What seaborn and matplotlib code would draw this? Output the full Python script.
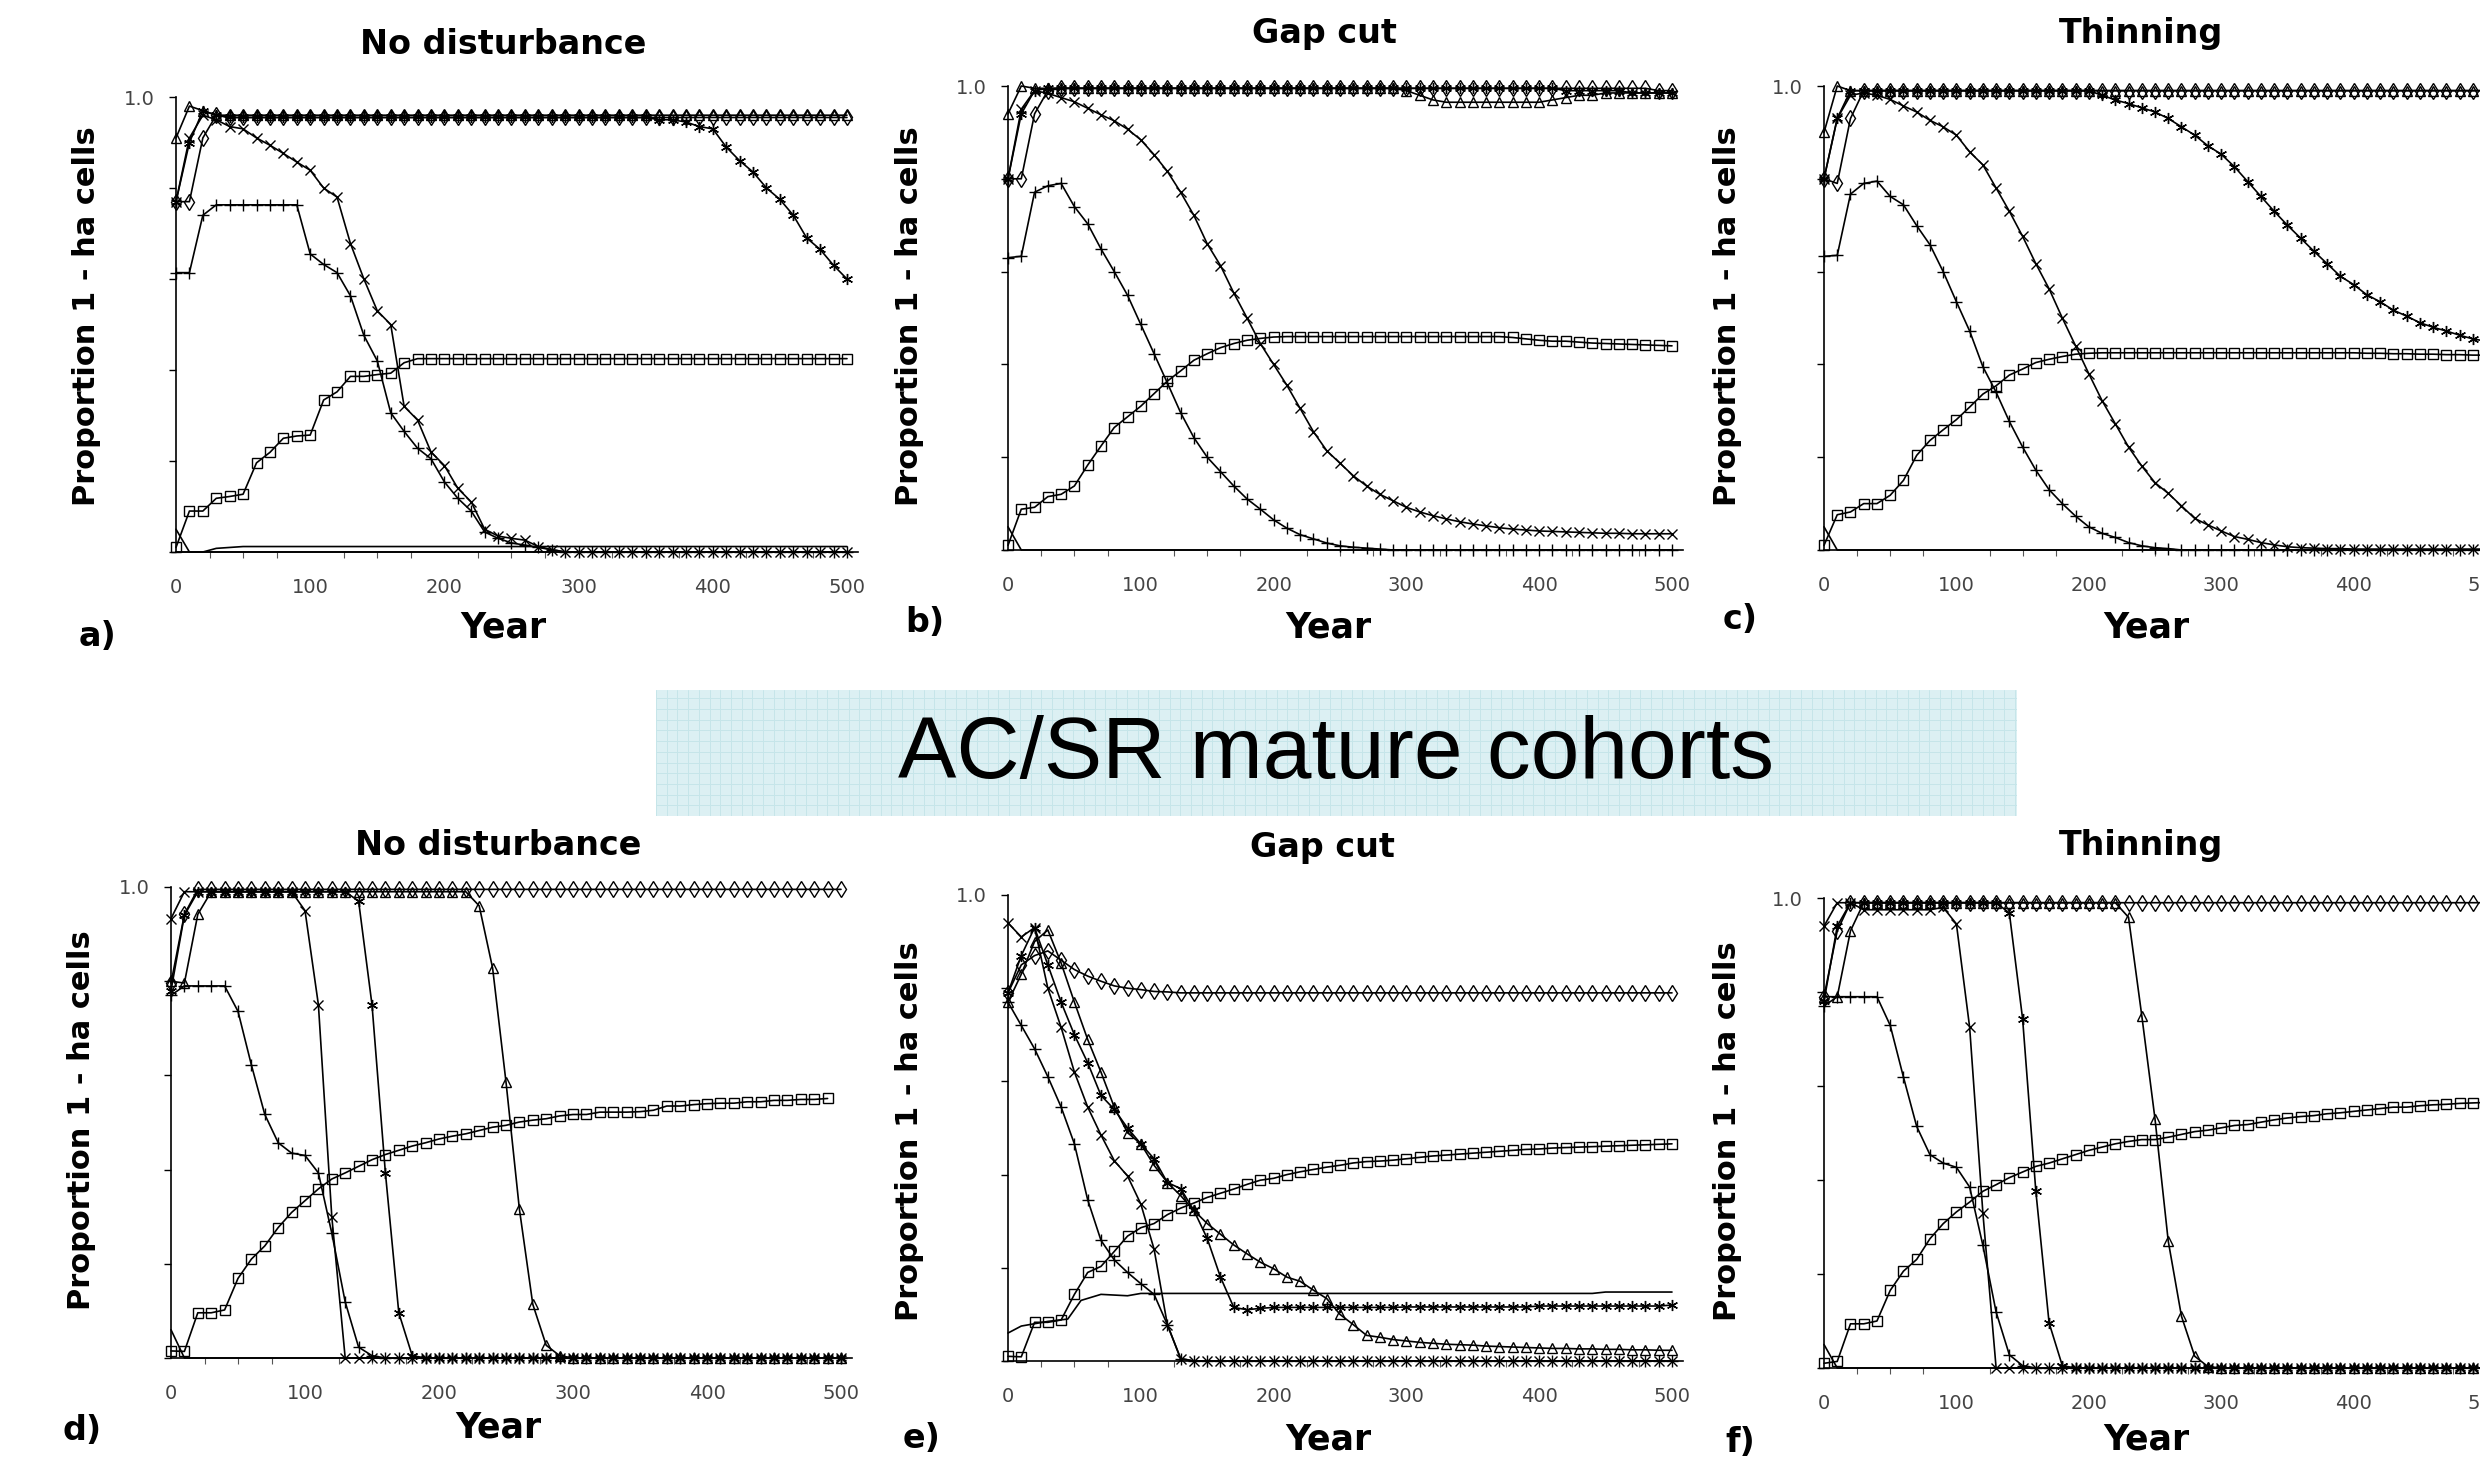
import numpy as np
import seaborn as sns
import matplotlib.pyplot as plt

# =====================================================
# DATA  (proportion of 1-ha cells, read every 10 years)
# =====================================================

YEARS = list(range(0, 510, 10))
SHORT_YEARS = [0, 10, 500]

TITLES = ["No disturbance", "Gap cut", "Thinning",
          "No disturbance", "Gap cut", "Thinning"]
LETTERS = ["a)", "b)", "c)", "d)", "e)", "f)"]
BANNER = "AC/SR mature cohorts"
X_TICKS = [0, 100, 200, 300, 400, 500]

# ---- a) no disturbance ----
A_TRI = [0.91, 0.98, 0.97, 0.96, 0.96, 0.96, 0.96, 0.96, 0.96, 0.96,
         0.96, 0.96, 0.96, 0.96, 0.96, 0.96, 0.96, 0.96, 0.96, 0.96,
         0.96, 0.96, 0.96, 0.96, 0.96, 0.96, 0.96, 0.96, 0.96, 0.96,
         0.96, 0.96, 0.96, 0.96, 0.96, 0.96, 0.96, 0.96, 0.96, 0.96,
         0.96, 0.96, 0.96, 0.96, 0.96, 0.96, 0.96, 0.96, 0.96, 0.96,
         0.96]
A_DIA = [0.77, 0.77, 0.91, 0.96, 0.955, 0.955, 0.955, 0.955, 0.955, 0.955,
         0.955, 0.955, 0.955, 0.955, 0.955, 0.955, 0.955, 0.955, 0.955, 0.955,
         0.955, 0.955, 0.955, 0.955, 0.955, 0.955, 0.955, 0.955, 0.955, 0.955,
         0.955, 0.955, 0.955, 0.955, 0.955, 0.955, 0.955, 0.955, 0.955, 0.955,
         0.955, 0.955, 0.955, 0.955, 0.955, 0.955, 0.955, 0.955, 0.955, 0.955,
         0.955]
A_AST = [0.77, 0.90, 0.97, 0.96, 0.955, 0.955, 0.955, 0.955, 0.955, 0.955,
         0.955, 0.955, 0.955, 0.955, 0.955, 0.955, 0.955, 0.955, 0.955, 0.955,
         0.955, 0.955, 0.955, 0.955, 0.955, 0.955, 0.955, 0.955, 0.955, 0.955,
         0.955, 0.955, 0.955, 0.955, 0.955, 0.955, 0.95, 0.95, 0.945, 0.935,
         0.93, 0.89, 0.86, 0.835, 0.80, 0.775, 0.74, 0.69, 0.665, 0.63,
         0.60]
A_X = [0.77, 0.91, 0.96, 0.95, 0.935, 0.93, 0.91, 0.894, 0.876, 0.857,
       0.839, 0.80, 0.78, 0.678, 0.60, 0.53, 0.50, 0.32, 0.29, 0.22,
       0.19, 0.14, 0.11, 0.05, 0.035, 0.03, 0.026, 0.012, 0.005, 0.0,
       0.0, 0.0, 0.0, 0.0, 0.0, 0.0, 0.0, 0.0, 0.0, 0.0,
       0.0, 0.0, 0.0, 0.0, 0.0, 0.0, 0.0, 0.0, 0.0, 0.0,
       0.0]
A_PLUS = [0.614, 0.614, 0.74, 0.763, 0.763, 0.763, 0.763, 0.763, 0.763, 0.763,
          0.655, 0.632, 0.614, 0.563, 0.476, 0.42, 0.306, 0.265, 0.228, 0.205,
          0.154, 0.118, 0.09, 0.044, 0.03, 0.02, 0.015, 0.01, 0.005, 0.0,
          0.0, 0.0, 0.0, 0.0, 0.0, 0.0, 0.0, 0.0, 0.0, 0.0,
          0.0, 0.0, 0.0, 0.0, 0.0, 0.0, 0.0, 0.0, 0.0, 0.0,
          0.0]
A_SQ = [0.01, 0.09, 0.09, 0.118, 0.122, 0.127, 0.196, 0.219, 0.25, 0.255,
        0.257, 0.334, 0.352, 0.386, 0.386, 0.39, 0.393, 0.416, 0.425, 0.425,
        0.425, 0.425, 0.425, 0.425, 0.425, 0.425, 0.425, 0.425, 0.425, 0.425,
        0.425, 0.425, 0.425, 0.425, 0.425, 0.425, 0.425, 0.425, 0.425, 0.425,
        0.425, 0.425, 0.425, 0.425, 0.425, 0.425, 0.425, 0.425, 0.425, 0.425,
        0.425]
A_LINE1 = [0.05, 0.0, 0.0]
A_LINE2_YEARS = [0, 20, 30, 50, 500]
A_LINE2 = [0.0, 0.0, 0.008, 0.012, 0.012]

# ---- b) gap cut ----
B_TRI = [0.94, 1.0, 0.995, 0.995, 0.995, 0.995, 0.995, 0.995, 0.995, 0.995,
         0.995, 0.995, 0.995, 0.995, 0.995, 0.995, 0.995, 0.995, 0.995, 0.995,
         0.995, 0.995, 0.995, 0.995, 0.995, 0.995, 0.995, 0.995, 0.995, 0.995,
         0.99, 0.98, 0.97, 0.965, 0.965, 0.965, 0.965, 0.965, 0.965, 0.965,
         0.965, 0.97, 0.975, 0.98, 0.98, 0.985, 0.985, 0.985, 0.985, 0.985,
         0.985]
B_DIA = [0.80, 0.80, 0.94, 0.99, 0.995, 0.995, 0.995, 0.995, 0.995, 0.995,
         0.995, 0.995, 0.995, 0.995, 0.995, 0.995, 0.995, 0.995, 0.995, 0.995,
         0.995, 0.995, 0.995, 0.995, 0.995, 0.995, 0.995, 0.995, 0.995, 0.995,
         0.995, 0.995, 0.995, 0.995, 0.995, 0.995, 0.995, 0.995, 0.995, 0.995,
         0.995, 0.995, 0.995, 0.995, 0.995, 0.995, 0.995, 0.995, 0.995, 0.99,
         0.99]
B_AST = [0.80, 0.94, 0.99, 0.995, 0.995, 0.995, 0.995, 0.995, 0.995, 0.995,
         0.995, 0.995, 0.995, 0.995, 0.995, 0.995, 0.995, 0.995, 0.995, 0.995,
         0.995, 0.995, 0.995, 0.995, 0.995, 0.995, 0.995, 0.995, 0.995, 0.995,
         0.995, 0.995, 0.995, 0.995, 0.995, 0.995, 0.995, 0.995, 0.995, 0.995,
         0.995, 0.995, 0.99, 0.99, 0.99, 0.99, 0.99, 0.985, 0.985, 0.985,
         0.985]
B_X = [0.80, 0.95, 0.99, 0.984, 0.975, 0.966, 0.952, 0.938, 0.925, 0.907,
       0.884, 0.852, 0.816, 0.771, 0.721, 0.66, 0.613, 0.554, 0.50, 0.445,
       0.40, 0.355, 0.305, 0.255, 0.214, 0.187, 0.16, 0.138, 0.12, 0.106,
       0.092, 0.082, 0.074, 0.067, 0.061, 0.056, 0.052, 0.048, 0.045, 0.043,
       0.041, 0.04, 0.039, 0.038, 0.037, 0.036, 0.036, 0.035, 0.035, 0.035,
       0.035]
B_PLUS = [0.63, 0.633, 0.771, 0.785, 0.79, 0.74, 0.703, 0.649, 0.60, 0.549,
          0.486, 0.423, 0.36, 0.296, 0.242, 0.20, 0.169, 0.138, 0.11, 0.088,
          0.065, 0.047, 0.033, 0.024, 0.015, 0.009, 0.006, 0.004, 0.002, 0.0,
          0.0, 0.0, 0.0, 0.0, 0.0, 0.0, 0.0, 0.0, 0.0, 0.0,
          0.0, 0.0, 0.0, 0.0, 0.0, 0.0, 0.0, 0.0, 0.0, 0.0,
          0.0]
B_SQ = [0.01, 0.088, 0.092, 0.115, 0.12, 0.138, 0.183, 0.224, 0.264, 0.287,
        0.31, 0.337, 0.364, 0.386, 0.409, 0.423, 0.436, 0.445, 0.452, 0.456,
        0.459, 0.46, 0.46, 0.46, 0.46, 0.46, 0.46, 0.46, 0.46, 0.46,
        0.46, 0.46, 0.46, 0.46, 0.46, 0.46, 0.46, 0.46, 0.458, 0.455,
        0.452, 0.45, 0.45, 0.448, 0.446, 0.445, 0.444, 0.443, 0.442, 0.441,
        0.44]
B_LINE1 = [0.05, 0.0, 0.0]

# ---- c) thinning ----
C_TRI = [0.90, 1.0, 0.99, 0.99, 0.99, 0.99, 0.99, 0.99, 0.99, 0.99,
         0.99, 0.99, 0.99, 0.99, 0.99, 0.99, 0.99, 0.99, 0.99, 0.99,
         0.99, 0.99, 0.99, 0.99, 0.99, 0.99, 0.99, 0.99, 0.99, 0.99,
         0.99, 0.99, 0.99, 0.99, 0.99, 0.99, 0.99, 0.99, 0.99, 0.99,
         0.99, 0.99, 0.99, 0.99, 0.99, 0.99, 0.99, 0.99, 0.99, 0.99,
         0.99]
C_DIA = [0.80, 0.79, 0.93, 0.99, 0.99, 0.99, 0.99, 0.99, 0.99, 0.99,
         0.99, 0.99, 0.99, 0.99, 0.99, 0.99, 0.99, 0.99, 0.99, 0.99,
         0.99, 0.99, 0.99, 0.99, 0.99, 0.99, 0.99, 0.99, 0.99, 0.99,
         0.99, 0.99, 0.99, 0.99, 0.99, 0.99, 0.99, 0.99, 0.99, 0.99,
         0.99, 0.99, 0.99, 0.99, 0.99, 0.99, 0.99, 0.99, 0.99, 0.99,
         0.99]
C_AST = [0.80, 0.93, 0.99, 0.99, 0.99, 0.99, 0.99, 0.99, 0.99, 0.99,
         0.99, 0.99, 0.99, 0.99, 0.99, 0.99, 0.99, 0.99, 0.99, 0.99,
         0.99, 0.98, 0.97, 0.962, 0.953, 0.944, 0.93, 0.912, 0.894, 0.871,
         0.853, 0.826, 0.794, 0.762, 0.73, 0.70, 0.672, 0.644, 0.617, 0.59,
         0.572, 0.55, 0.535, 0.517, 0.504, 0.49, 0.48, 0.472, 0.463, 0.455,
         0.45]
C_X = [0.80, 0.93, 0.98, 0.985, 0.98, 0.971, 0.957, 0.944, 0.926, 0.912,
       0.894, 0.858, 0.83, 0.78, 0.73, 0.676, 0.617, 0.563, 0.50, 0.44,
       0.38, 0.322, 0.272, 0.222, 0.181, 0.145, 0.122, 0.095, 0.068, 0.054,
       0.041, 0.029, 0.023, 0.016, 0.011, 0.007, 0.005, 0.004, 0.003, 0.003,
       0.002, 0.002, 0.002, 0.002, 0.002, 0.002, 0.002, 0.002, 0.002, 0.002,
       0.002]
C_PLUS = [0.633, 0.635, 0.767, 0.79, 0.795, 0.762, 0.744, 0.699, 0.658, 0.60,
          0.535, 0.472, 0.395, 0.34, 0.277, 0.222, 0.172, 0.13, 0.10, 0.073,
          0.05, 0.036, 0.027, 0.016, 0.009, 0.005, 0.003, 0.0, 0.0, 0.0,
          0.0, 0.0, 0.0, 0.0, 0.0, 0.0, 0.0, 0.0, 0.0, 0.0,
          0.0, 0.0, 0.0, 0.0, 0.0, 0.0, 0.0, 0.0, 0.0, 0.0,
          0.0]
C_SQ = [0.01, 0.076, 0.082, 0.10, 0.10, 0.118, 0.15, 0.204, 0.236, 0.259,
        0.281, 0.308, 0.336, 0.354, 0.377, 0.39, 0.404, 0.411, 0.417, 0.422,
        0.424, 0.425, 0.425, 0.425, 0.425, 0.425, 0.425, 0.425, 0.425, 0.425,
        0.425, 0.425, 0.425, 0.425, 0.425, 0.425, 0.425, 0.425, 0.425, 0.425,
        0.425, 0.424, 0.424, 0.423, 0.423, 0.422, 0.422, 0.421, 0.421, 0.42,
        0.42]
C_LINE1 = [0.05, 0.0, 0.0]

# ---- d) no disturbance, mature cohorts ----
D_DIA = [0.796, 0.942, 0.995, 0.995, 0.995, 0.995, 0.995, 0.995, 0.995, 0.995,
         0.995, 0.995, 0.995, 0.995, 0.995, 0.995, 0.995, 0.995, 0.995, 0.995,
         0.995, 0.995, 0.995, 0.995, 0.995, 0.995, 0.995, 0.995, 0.995, 0.995,
         0.995, 0.995, 0.995, 0.995, 0.995, 0.995, 0.995, 0.995, 0.995, 0.995,
         0.995, 0.995, 0.995, 0.995, 0.995, 0.995, 0.995, 0.995, 0.995, 0.995,
         0.995]
D_X = [0.933, 0.99, 0.99, 0.99, 0.99, 0.99, 0.99, 0.99, 0.99, 0.99,
       0.95, 0.75, 0.30, 0.0, 0.0, 0.0, 0.0, 0.0, 0.0, 0.0,
       0.0, 0.0, 0.0, 0.0, 0.0, 0.0, 0.0, 0.0, 0.0, 0.0,
       0.0, 0.0, 0.0, 0.0, 0.0, 0.0, 0.0, 0.0, 0.0, 0.0,
       0.0, 0.0, 0.0, 0.0, 0.0, 0.0, 0.0, 0.0, 0.0, 0.0,
       0.0]
D_AST = [0.78, 0.94, 0.99, 0.99, 0.99, 0.99, 0.99, 0.99, 0.99, 0.99,
         0.99, 0.99, 0.99, 0.99, 0.97, 0.75, 0.393, 0.096, 0.005, 0.0,
         0.0, 0.0, 0.0, 0.0, 0.0, 0.0, 0.0, 0.0, 0.0, 0.0,
         0.0, 0.0, 0.0, 0.0, 0.0, 0.0, 0.0, 0.0, 0.0, 0.0,
         0.0, 0.0, 0.0, 0.0, 0.0, 0.0, 0.0, 0.0, 0.0, 0.0,
         0.0]
D_TRI = [0.80, 0.796, 0.942, 0.99, 0.99, 0.99, 0.99, 0.99, 0.99, 0.99,
         0.99, 0.99, 0.99, 0.99, 0.99, 0.99, 0.99, 0.99, 0.99, 0.99,
         0.99, 0.99, 0.99, 0.96, 0.828, 0.586, 0.316, 0.114, 0.027, 0.005,
         0.0, 0.0, 0.0, 0.0, 0.0, 0.0, 0.0, 0.0, 0.0, 0.0,
         0.0, 0.0, 0.0, 0.0, 0.0, 0.0, 0.0, 0.0, 0.0, 0.0,
         0.0]
D_PLUS = [0.77, 0.79, 0.79, 0.79, 0.79, 0.736, 0.622, 0.517, 0.457, 0.435,
          0.43, 0.393, 0.265, 0.119, 0.023, 0.005, 0.0, 0.0, 0.0, 0.0,
          0.0, 0.0, 0.0, 0.0, 0.0, 0.0, 0.0, 0.0, 0.0, 0.0,
          0.0, 0.0, 0.0, 0.0, 0.0, 0.0, 0.0, 0.0, 0.0, 0.0,
          0.0, 0.0, 0.0, 0.0, 0.0, 0.0, 0.0, 0.0, 0.0, 0.0,
          0.0]
D_SQ = [0.015, 0.014, 0.096, 0.096, 0.102, 0.169, 0.21, 0.238, 0.277, 0.309,
        0.334, 0.359, 0.38, 0.393, 0.407, 0.421, 0.432, 0.441, 0.45, 0.457,
        0.465, 0.471, 0.476, 0.483, 0.49, 0.494, 0.501, 0.505, 0.508, 0.514,
        0.517, 0.517, 0.522, 0.522, 0.522, 0.523, 0.526, 0.535, 0.535, 0.538,
        0.54, 0.541, 0.541, 0.544, 0.544, 0.547, 0.547, 0.549, 0.549, 0.551]
D_LINE1 = [0.06, 0.0, 0.0]

# ---- e) gap cut, mature cohorts ----
E_DIA = [0.79, 0.85, 0.87, 0.88, 0.86, 0.84, 0.826, 0.815, 0.805, 0.80,
         0.797, 0.793, 0.792, 0.79, 0.79, 0.79, 0.79, 0.79, 0.79, 0.79,
         0.79, 0.79, 0.79, 0.79, 0.79, 0.79, 0.79, 0.79, 0.79, 0.79,
         0.79, 0.79, 0.79, 0.79, 0.79, 0.79, 0.79, 0.79, 0.79, 0.79,
         0.79, 0.79, 0.79, 0.79, 0.79, 0.79, 0.79, 0.79, 0.79, 0.79,
         0.79]
E_X = [0.94, 0.91, 0.93, 0.80, 0.716, 0.62, 0.545, 0.485, 0.43, 0.397,
       0.337, 0.24, 0.078, 0.005, 0.0, 0.0, 0.0, 0.0, 0.0, 0.0,
       0.0, 0.0, 0.0, 0.0, 0.0, 0.0, 0.0, 0.0, 0.0, 0.0,
       0.0, 0.0, 0.0, 0.0, 0.0, 0.0, 0.0, 0.0, 0.0, 0.0,
       0.0, 0.0, 0.0, 0.0, 0.0, 0.0, 0.0, 0.0, 0.0, 0.0,
       0.0]
E_PLUS = [0.77, 0.72, 0.67, 0.61, 0.545, 0.466, 0.346, 0.259, 0.217, 0.19,
          0.166, 0.143, 0.078, 0.005, 0.0, 0.0, 0.0, 0.0, 0.0, 0.0,
          0.0, 0.0, 0.0, 0.0, 0.0, 0.0, 0.0, 0.0, 0.0, 0.0,
          0.0, 0.0, 0.0, 0.0, 0.0, 0.0, 0.0, 0.0, 0.0, 0.0,
          0.0, 0.0, 0.0, 0.0, 0.0, 0.0, 0.0, 0.0, 0.0, 0.0,
          0.0]
E_AST = [0.79, 0.87, 0.93, 0.85, 0.77, 0.70, 0.64, 0.57, 0.54, 0.50,
         0.466, 0.434, 0.383, 0.37, 0.323, 0.263, 0.18, 0.115, 0.11, 0.113,
         0.115, 0.115, 0.115, 0.115, 0.115, 0.115, 0.115, 0.115, 0.115, 0.115,
         0.116, 0.116, 0.116, 0.116, 0.116, 0.116, 0.116, 0.116, 0.116, 0.116,
         0.118, 0.118, 0.118, 0.118, 0.118, 0.118, 0.118, 0.118, 0.118, 0.118,
         0.12]
E_TRI = [0.77, 0.83, 0.90, 0.925, 0.854, 0.77, 0.69, 0.62, 0.545, 0.49,
         0.466, 0.42, 0.383, 0.355, 0.323, 0.295, 0.272, 0.249, 0.23, 0.212,
         0.198, 0.18, 0.171, 0.152, 0.134, 0.10, 0.078, 0.055, 0.051, 0.046,
         0.043, 0.04, 0.038, 0.036, 0.035, 0.034, 0.032, 0.031, 0.03, 0.029,
         0.028, 0.027, 0.027, 0.026, 0.026, 0.025, 0.025, 0.024, 0.024, 0.023,
         0.023]
E_SQ = [0.01, 0.009, 0.083, 0.083, 0.088, 0.143, 0.19, 0.203, 0.235, 0.268,
        0.286, 0.295, 0.314, 0.328, 0.339, 0.351, 0.36, 0.369, 0.379, 0.388,
        0.392, 0.40, 0.406, 0.411, 0.416, 0.42, 0.425, 0.428, 0.429, 0.431,
        0.434, 0.437, 0.44, 0.442, 0.444, 0.446, 0.448, 0.45, 0.452, 0.454,
        0.455, 0.457, 0.458, 0.459, 0.46, 0.461, 0.462, 0.463, 0.464, 0.465,
        0.466]
E_LINE1_YEARS = [0, 10, 30, 45, 55, 70, 90, 100, 440, 450, 500]
E_LINE1 = [0.06, 0.075, 0.085, 0.09, 0.13, 0.143, 0.14, 0.145, 0.145, 0.148, 0.148]

# ---- f) thinning, mature cohorts ----
F_DIA = [0.79, 0.93, 0.99, 0.99, 0.99, 0.99, 0.99, 0.99, 0.99, 0.99,
         0.99, 0.99, 0.99, 0.99, 0.99, 0.99, 0.99, 0.99, 0.99, 0.99,
         0.99, 0.99, 0.99, 0.99, 0.99, 0.99, 0.99, 0.99, 0.99, 0.99,
         0.99, 0.99, 0.99, 0.99, 0.99, 0.99, 0.99, 0.99, 0.99, 0.99,
         0.99, 0.99, 0.99, 0.99, 0.99, 0.99, 0.99, 0.99, 0.99, 0.99,
         0.99]
F_X = [0.94, 0.99, 0.99, 0.975, 0.975, 0.975, 0.975, 0.975, 0.975, 0.98,
       0.945, 0.725, 0.33, 0.0, 0.0, 0.0, 0.0, 0.0, 0.0, 0.0,
       0.0, 0.0, 0.0, 0.0, 0.0, 0.0, 0.0, 0.0, 0.0, 0.0,
       0.0, 0.0, 0.0, 0.0, 0.0, 0.0, 0.0, 0.0, 0.0, 0.0,
       0.0, 0.0, 0.0, 0.0, 0.0, 0.0, 0.0, 0.0, 0.0, 0.0,
       0.0]
F_PLUS = [0.77, 0.79, 0.79, 0.79, 0.79, 0.729, 0.619, 0.514, 0.454, 0.436,
          0.427, 0.385, 0.261, 0.119, 0.028, 0.005, 0.0, 0.0, 0.0, 0.0,
          0.0, 0.0, 0.0, 0.0, 0.0, 0.0, 0.0, 0.0, 0.0, 0.0,
          0.0, 0.0, 0.0, 0.0, 0.0, 0.0, 0.0, 0.0, 0.0, 0.0,
          0.0, 0.0, 0.0, 0.0, 0.0, 0.0, 0.0, 0.0, 0.0, 0.0,
          0.0]
F_AST = [0.78, 0.94, 0.99, 0.99, 0.99, 0.99, 0.99, 0.99, 0.99, 0.99,
         0.99, 0.99, 0.99, 0.99, 0.968, 0.743, 0.376, 0.096, 0.005, 0.0,
         0.0, 0.0, 0.0, 0.0, 0.0, 0.0, 0.0, 0.0, 0.0, 0.0,
         0.0, 0.0, 0.0, 0.0, 0.0, 0.0, 0.0, 0.0, 0.0, 0.0,
         0.0, 0.0, 0.0, 0.0, 0.0, 0.0, 0.0, 0.0, 0.0, 0.0,
         0.0]
F_TRI = [0.79, 0.79, 0.93, 0.99, 0.99, 0.99, 0.99, 0.99, 0.99, 0.99,
         0.99, 0.99, 0.99, 0.99, 0.99, 0.99, 0.99, 0.99, 0.99, 0.99,
         0.99, 0.99, 0.99, 0.959, 0.75, 0.53, 0.27, 0.11, 0.025, 0.003,
         0.0, 0.0, 0.0, 0.0, 0.0, 0.0, 0.0, 0.0, 0.0, 0.0,
         0.0, 0.0, 0.0, 0.0, 0.0, 0.0, 0.0, 0.0, 0.0, 0.0,
         0.0]
F_SQ = [0.01, 0.014, 0.094, 0.094, 0.10, 0.165, 0.206, 0.231, 0.275, 0.307,
        0.332, 0.353, 0.376, 0.39, 0.405, 0.417, 0.429, 0.436, 0.445, 0.454,
        0.463, 0.47, 0.477, 0.482, 0.486, 0.486, 0.491, 0.497, 0.503, 0.506,
        0.511, 0.516, 0.518, 0.523, 0.528, 0.532, 0.535, 0.537, 0.541, 0.543,
        0.546, 0.549, 0.552, 0.555, 0.555, 0.558, 0.56, 0.561, 0.563, 0.564,
        0.565]
F_LINE1 = [0.05, 0.0, 0.0]

# =====================================================
# MARKERS
# =====================================================

ASTERISK = (6, 2, 0)
MK = {
    "tri": ("^", 7.5),
    "dia": ("d", 8),
    "ast": (ASTERISK, 8),
    "x": ("x", 6.5),
    "plus": ("+", 8),
    "sq": ("s", 6.5),
    "line": (None, 0),
}

PANELS = [
    [(YEARS, A_TRI, "tri"), (YEARS, A_DIA, "dia"), (YEARS, A_AST, "ast"),
     (YEARS, A_X, "x"), (YEARS, A_PLUS, "plus"), (YEARS, A_SQ, "sq"),
     (SHORT_YEARS, A_LINE1, "line"), (A_LINE2_YEARS, A_LINE2, "line")],
    [(YEARS, B_TRI, "tri"), (YEARS, B_DIA, "dia"), (YEARS, B_AST, "ast"),
     (YEARS, B_X, "x"), (YEARS, B_PLUS, "plus"), (YEARS, B_SQ, "sq"),
     (SHORT_YEARS, B_LINE1, "line")],
    [(YEARS, C_TRI, "tri"), (YEARS, C_DIA, "dia"), (YEARS, C_AST, "ast"),
     (YEARS, C_X, "x"), (YEARS, C_PLUS, "plus"), (YEARS, C_SQ, "sq"),
     (SHORT_YEARS, C_LINE1, "line")],
    [(YEARS, D_DIA, "dia"), (YEARS, D_X, "x"), (YEARS, D_AST, "ast"),
     (YEARS, D_TRI, "tri"), (YEARS, D_PLUS, "plus"), (YEARS[:-1], D_SQ, "sq"),
     (SHORT_YEARS, D_LINE1, "line")],
    [(YEARS, E_DIA, "dia"), (YEARS, E_X, "x"), (YEARS, E_PLUS, "plus"),
     (YEARS, E_AST, "ast"), (YEARS, E_TRI, "tri"), (YEARS, E_SQ, "sq"),
     (E_LINE1_YEARS, E_LINE1, "line")],
    [(YEARS, F_DIA, "dia"), (YEARS, F_X, "x"), (YEARS, F_PLUS, "plus"),
     (YEARS, F_AST, "ast"), (YEARS, F_TRI, "tri"), (YEARS, F_SQ, "sq"),
     (SHORT_YEARS, F_LINE1, "line")],
]

# =====================================================
# LAYOUT (pixel boxes: x at year 0, x at year 500, y at 1.0, y at 0)
# =====================================================

W, H = 2480, 1476
BOXES = [
    (176, 847, 97, 552),
    (1008, 1672, 86, 550),
    (1824, 2486, 86, 550),
    (171, 841, 887, 1358),
    (1008, 1672, 895, 1361),
    (1824, 2486, 898, 1368),
]
XMAX = 508

sns.set_theme(style="white")
plt.rcParams["font.family"] = ["DejaVu Sans"]
plt.rcParams["text.color"] = "black"

fig = plt.figure(figsize=(W / 100, H / 100), dpi=100)
fig.patch.set_facecolor("white")


def fx(px):
    return px / W


def fy(py):
    return 1 - py / H


for i, (box, series) in enumerate(zip(BOXES, PANELS)):

    x0, x5, y1, y0 = box
    ax = fig.add_axes([
        fx(x0),
        fy(y0),
        (x5 - x0) / W * XMAX / 500,
        (y0 - y1) / H
    ])

    for years, vals, key in series:
        marker, ms = MK[key]
        sns.lineplot(
            x=years,
            y=vals,
            ax=ax,
            color="black",
            lw=1.2,
            marker=marker,
            markersize=ms,
            markerfacecolor="none",
            markeredgecolor="black",
            markeredgewidth=1.0,
            estimator=None,
            sort=False,
            clip_on=False,
        )

    ax.set_xlim(0, XMAX)
    ax.set_ylim(0, 1.0)
    ax.set_facecolor("white")

    for s in ["top", "right"]:
        ax.spines[s].set_visible(False)
    for s in ["left", "bottom"]:
        ax.spines[s].set_color("black")
        ax.spines[s].set_linewidth(1.2)

    ax.set_xticks(X_TICKS)
    ax.set_xticklabels([str(t) for t in X_TICKS])
    ax.set_xticks(np.arange(0, 501, 25), minor=True)
    ax.set_yticks([0, 0.2, 0.4, 0.6, 0.8, 1.0])
    ax.set_yticklabels(["", "", "", "", "", "1.0"])

    ax.tick_params(axis="x", which="major", direction="out", length=5,
                   width=1, color="black", pad=14, labelsize=14,
                   labelcolor="#444444")
    ax.tick_params(axis="x", which="minor", direction="out", length=4,
                   width=0.8, color="#555555", bottom=True)
    ax.tick_params(axis="y", which="major", direction="out", length=5,
                   width=1, color="black", pad=10, labelsize=14,
                   labelcolor="#444444", left=True)

    ax.set_xlabel("")
    ax.set_ylabel("")

# =====================================================
# TEXTS
# =====================================================

TITLE_POS = [(503, 44), (1324, 34), (2141, 34), (498, 846), (1322, 848), (2141, 845)]
YLAB_POS = [(87, 316), (909, 316), (1727, 316), (82, 1120), (909, 1131), (1727, 1131)]
YEAR_POS = [(503, 628), (1328, 628), (2146, 628), (498, 1428), (1328, 1439), (2146, 1439)]
LET_POS = [(98, 636), (925, 623), (1740, 620), (82, 1431), (922, 1439), (1740, 1442)]

for i in range(6):
    fig.text(fx(TITLE_POS[i][0]), fy(TITLE_POS[i][1]), TITLES[i],
             ha="center", va="center", fontsize=24, fontweight="bold",
             color="black")
    fig.text(fx(YLAB_POS[i][0]), fy(YLAB_POS[i][1]), "Proportion 1 - ha cells",
             ha="center", va="center", rotation=90, fontsize=22,
             fontweight="bold", color="black")
    fig.text(fx(YEAR_POS[i][0]), fy(YEAR_POS[i][1]), "Year",
             ha="center", va="center", fontsize=25, fontweight="bold",
             color="black")
    fig.text(fx(LET_POS[i][0]), fy(LET_POS[i][1]), LETTERS[i],
             ha="center", va="center", fontsize=24, fontweight="bold",
             color="black")

# =====================================================
# BANNER
# =====================================================

bx0, bx1, by0, by1 = 656, 2017, 690, 816
bax = fig.add_axes([fx(bx0), fy(by1), (bx1 - bx0) / W, (by1 - by0) / H])
bax.set_facecolor("#dcf0f3")
bax.set_xlim(0, bx1 - bx0)
bax.set_ylim(0, by1 - by0)
bax.set_xticks(np.arange(0, bx1 - bx0, 10.7))
bax.set_yticks(np.arange(0, by1 - by0, 10.7))
bax.grid(True, color="#c6e5e9", lw=0.7)
bax.tick_params(length=0, labelbottom=False, labelleft=False)
for s in bax.spines.values():
    s.set_visible(False)
bax.text((bx1 - bx0) / 2, (by1 - by0) / 2 - 2, BANNER,
         ha="center", va="center", fontsize=63, color="black",
         family=["Liberation Sans", "DejaVu Sans"])

fig.savefig("out.png", dpi=100, facecolor="white")
plt.close(fig)
